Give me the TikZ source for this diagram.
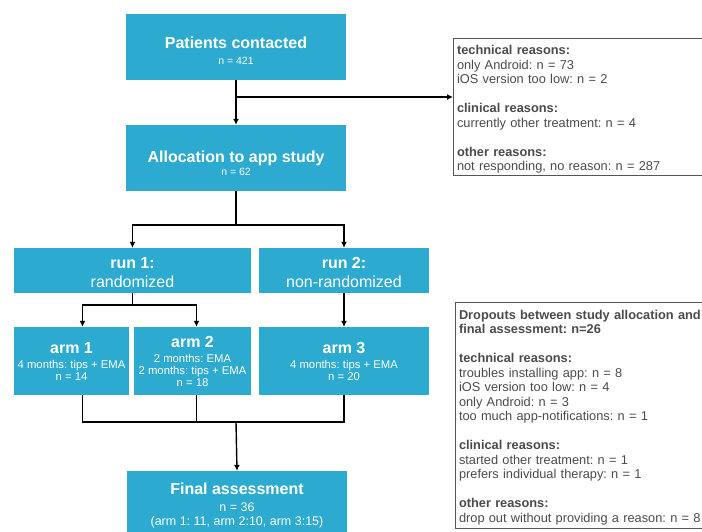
\documentclass[tikz,border=0pt]{standalone}
\usepackage{fontspec}
\setmainfont{Liberation Sans}
\frenchspacing
\usetikzlibrary{arrows.meta}

\definecolor{boxblue}{HTML}{2DAAD0}
\definecolor{notegray}{HTML}{555555}
\definecolor{notetext}{HTML}{4A4A4A}

\newcommand{\boxtitle}[1]{{\bfseries\fontsize{16}{19}\selectfont #1}}
\newcommand{\boxsmall}{\fontsize{10.5}{12.5}\selectfont}
\newcommand{\armtext}{\fontsize{11.3}{12.5}\selectfont}
\newcommand{\lift}[1]{\rule{0pt}{#1}}

\tikzset{
  stage/.style={fill=boxblue, text=white, align=center, inner sep=0pt},
  note/.style={draw=notegray, line width=1pt, text=notetext, align=left,
    anchor=north west, inner xsep=3.5pt, inner ysep=0pt,
    font=\fontsize{12.8}{14.5}\selectfont},
  link/.style={line width=1.4pt},
  flow/.style={line width=1.4pt, -{Latex[length=6pt,width=6pt]}}
}

\begin{document}
\begin{tikzpicture}[x=1pt,y=-1pt]
        \useasboundingbox (0,0) rectangle (702,531);

        % Cajas principales
        \node[stage, minimum width=220pt, minimum height=66pt, font=\boxsmall] (contacted) at (236,47)
            {\lift{19.6pt}\boxtitle{Patients contacted}\\[3.5pt]n = 421};
        \node[stage, minimum width=220pt, minimum height=66pt, font=\boxsmall] (alloc) at (236,158)
            {\lift{21.6pt}\boxtitle{Allocation to app study}\\[0.5pt]n = 62};

        % Runs
        \node[stage, minimum width=237pt, minimum height=45pt, font=\fontsize{16}{19}\selectfont] (run1) at (132.5,270.5)
            {\lift{15.6pt}\textbf{run 1:}\\randomized};
        \node[stage, minimum width=170pt, minimum height=45pt, font=\fontsize{16}{19}\selectfont] (run2) at (344,270.5)
            {\lift{15.6pt}\textbf{run 2:}\\non-randomized};

        % Arms
        \node[stage, minimum width=115pt, minimum height=68pt] (arm1) at (71.5,361)
            {\boxtitle{arm 1}\\[3pt]{\armtext 4 months: tips + EMA}\\{\armtext n = 14}};
        \node[stage, minimum width=117pt, minimum height=68pt] (arm2) at (192.5,361)
            {\boxtitle{arm 2}\\[3pt]{\armtext 2 months: EMA}\\{\armtext 2 months: tips + EMA}\\{\armtext n = 18}};
        \node[stage, minimum width=170pt, minimum height=68pt] (arm3) at (344,361)
            {\boxtitle{arm 3}\\[3pt]{\armtext 4 months: tips + EMA}\\{\armtext n = 20}};

        % Final
        \node[stage, minimum width=220pt, minimum height=66pt, font=\fontsize{12.5}{14}\selectfont] (final) at (237,504)
            {\lift{14.8pt}\boxtitle{Final assessment}\\[2.8pt]n = 36\\(arm 1: 11, arm 2:10, arm 3:15)};

        % Notas a la derecha
        \node[note, minimum width=262pt, minimum height=137pt, text width=255pt] (excl) at (453,38)
            {\lift{14pt}\textbf{technical reasons:}\\
             only Android: n = 73\\
             iOS version too low: n = 2\\[14.5pt]
             \textbf{clinical reasons:}\\
             currently other treatment: n = 4\\[14.5pt]
             \textbf{other reasons:}\\
             not responding, no reason: n = 287};
        \node[note, minimum width=262pt, minimum height=226pt, text width=255pt] (drop) at (455,302)
            {\lift{13pt}\textbf{Dropouts between study allocation and}\\
             \textbf{final assessment: n=26}\\[14.5pt]
             \textbf{technical reasons:}\\
             troubles installing app: n = 8\\
             iOS version too low: n = 4\\
             only Android: n = 3\\
             too much app-notifications: n = 1\\[14.5pt]
             \textbf{clinical reasons:}\\
             started other treatment: n = 1\\
             prefers individual therapy: n = 1\\[14.5pt]
             \textbf{other reasons:}\\
             drop out without providing a reason: n = 8};

        % Flechas
        \coordinate (split0) at (236,97);
        \draw[link] (contacted.south) -- (split0);
        \draw[flow] (split0) -- (alloc.north);
        \draw[flow] (split0) -- (split0 -| excl.west);

        \coordinate (split1) at (236,225);
        \draw[link] (alloc.south) -- (split1);
        \draw[flow] (split1) -| (run1.north);
        \draw[flow] (split1) -| (run2.north);

        \coordinate (split2) at (132.5,305);
        \draw[link] (run1.south) -- (split2);
        \draw[flow] (split2) -| ([xshift=11pt]arm1.north);
        \draw[flow] (split2) -| ([xshift=4pt]arm2.north);
        \draw[flow] (run2.south) -- (arm3.north);

        \coordinate (merge) at (236,422);
        \draw[link] ([xshift=11pt]arm1.south) |- (merge -| arm3.south) -- (arm3.south);
        \draw[link] ([xshift=4pt]arm2.south) -- ([xshift=4pt]arm2.south |- merge);
        \draw[flow] (merge) -- (final.north);

    \end{tikzpicture}
\end{document}
